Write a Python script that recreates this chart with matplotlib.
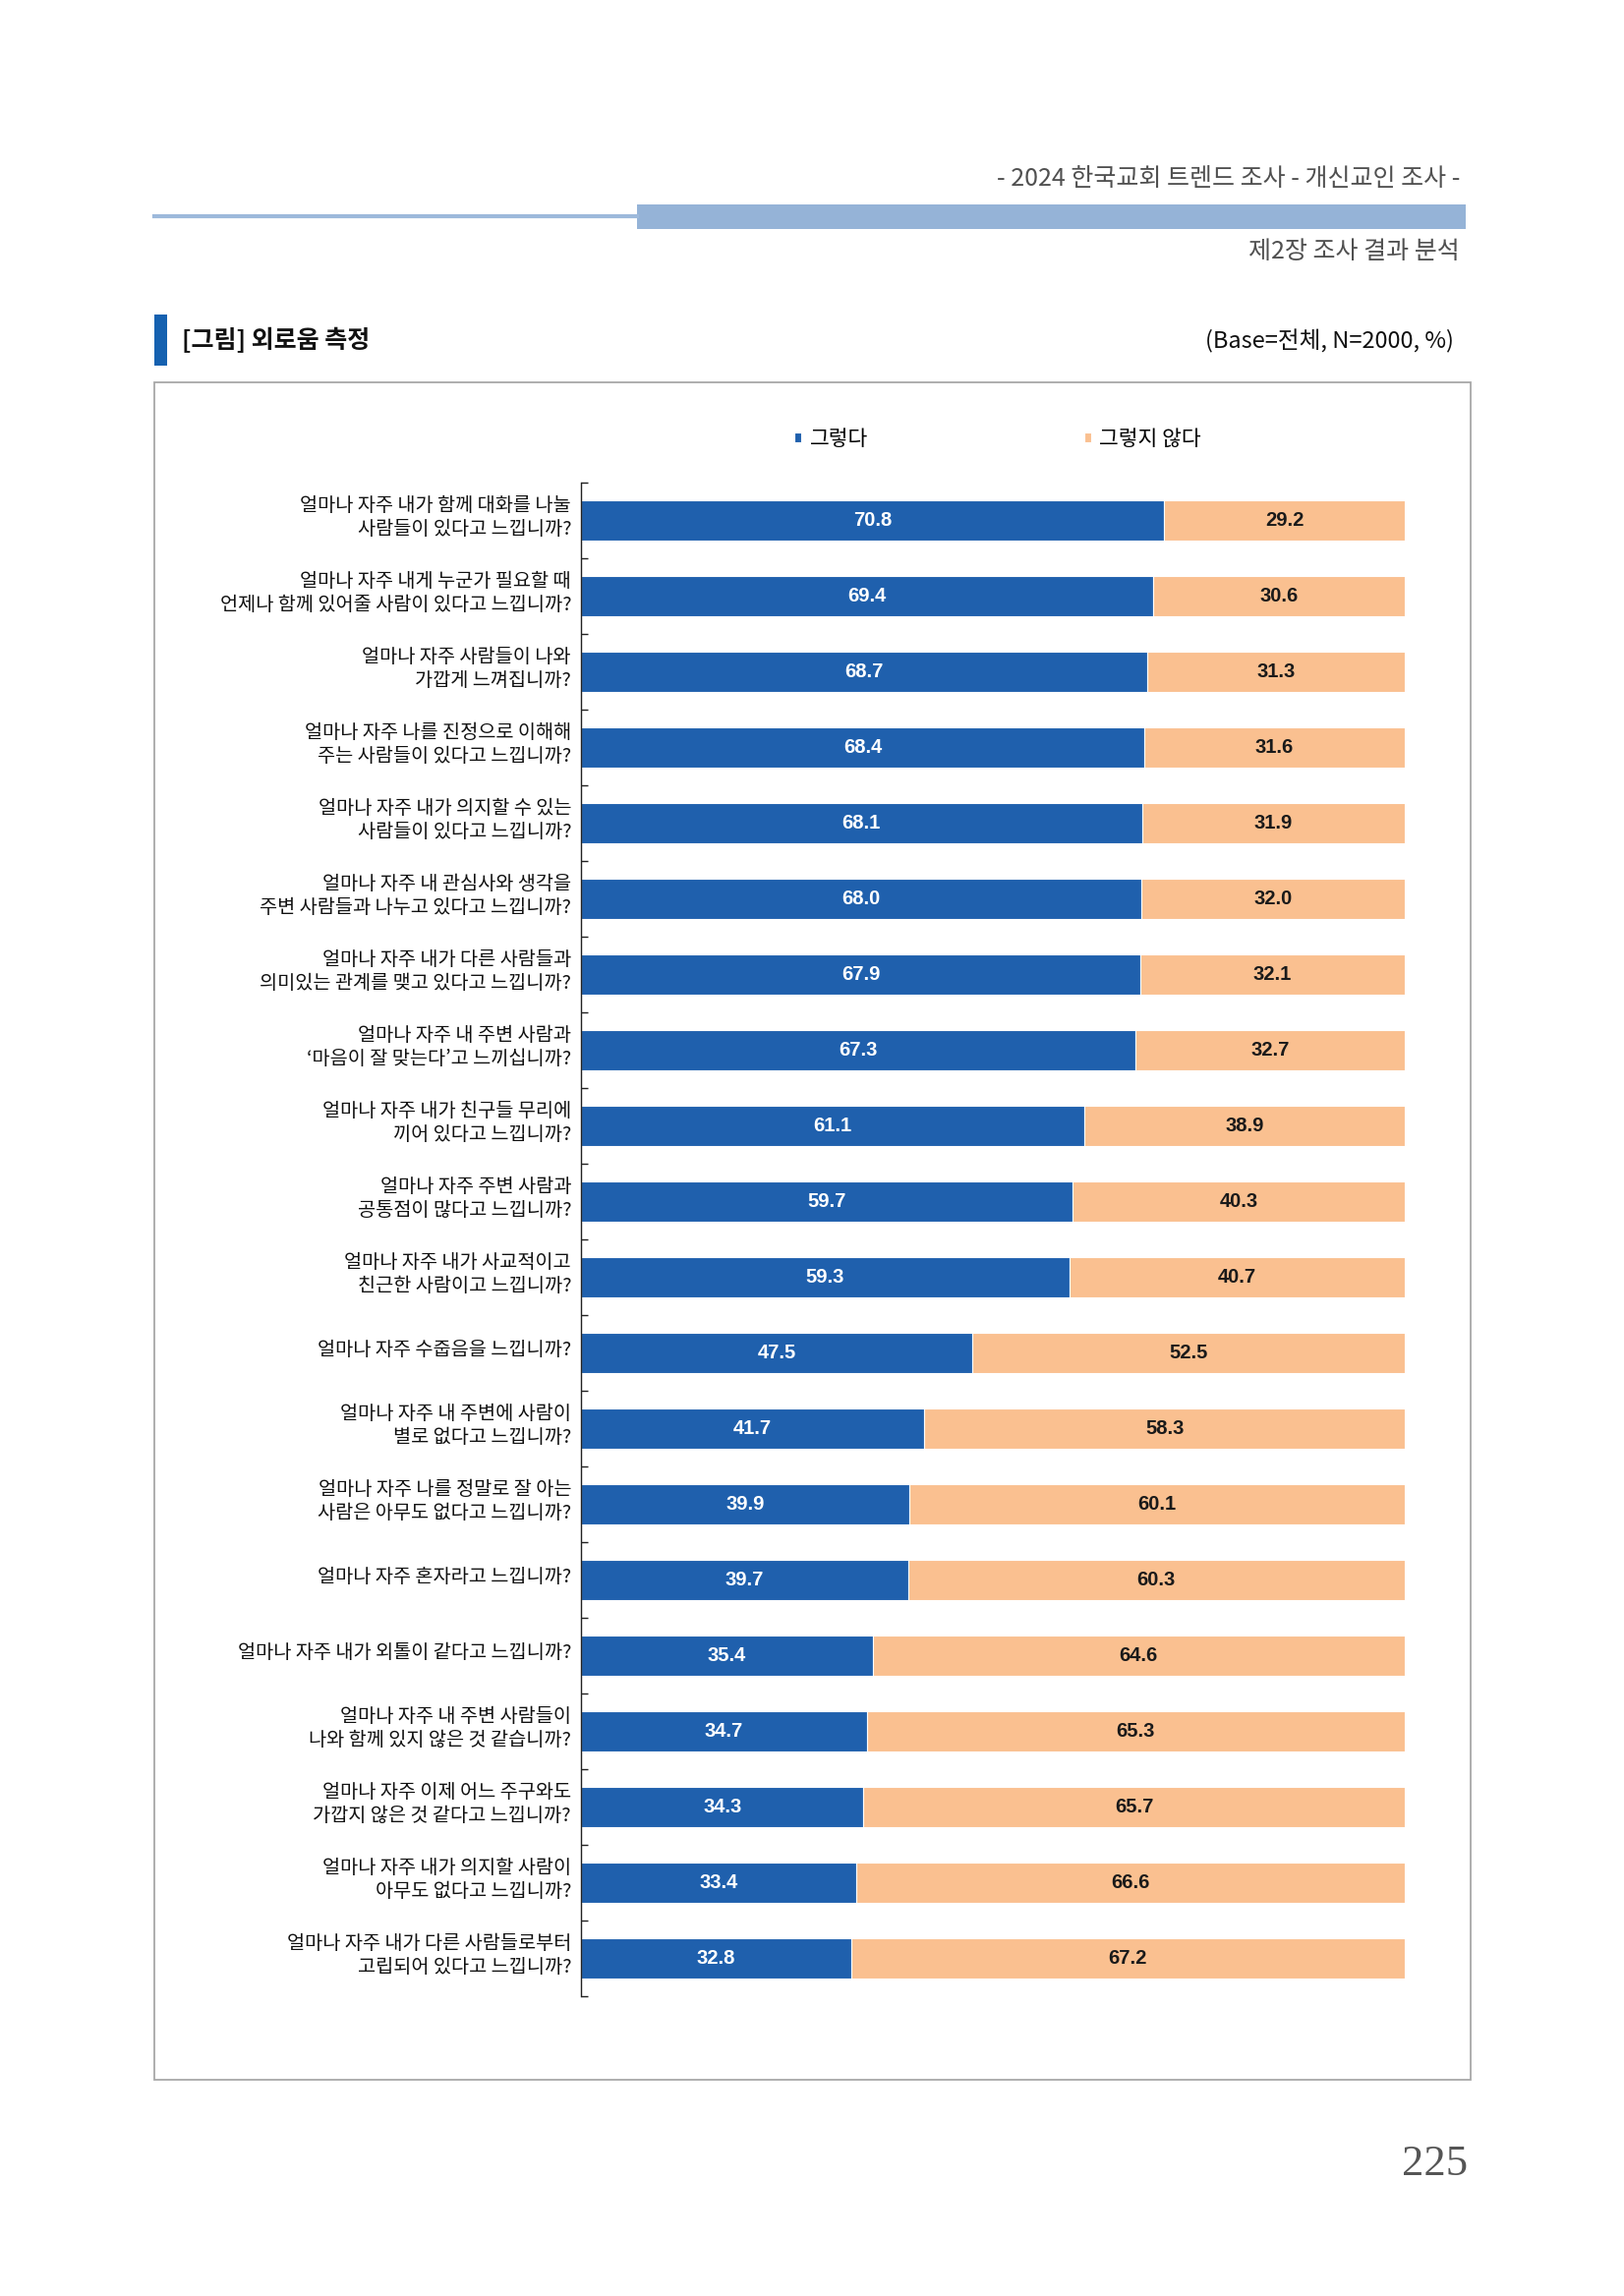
import matplotlib
matplotlib.use("Agg")
import matplotlib.pyplot as plt
from matplotlib.patches import Rectangle
from matplotlib.lines import Line2D
from matplotlib.transforms import ScaledTranslation

plt.rcParams['font.family'] = ['Noto Sans CJK KR', 'DejaVu Sans']

categories = [
    "얼마나 자주 내가 함께 대화를 나눌\n사람들이 있다고 느낍니까?",
    "얼마나 자주 내게 누군가 필요할 때\n언제나 함께 있어줄 사람이 있다고 느낍니까?",
    "얼마나 자주 사람들이 나와\n가깝게 느껴집니까?",
    "얼마나 자주 나를 진정으로 이해해\n주는 사람들이 있다고 느낍니까?",
    "얼마나 자주 내가 의지할 수 있는\n사람들이 있다고 느낍니까?",
    "얼마나 자주 내 관심사와 생각을\n주변 사람들과 나누고 있다고 느낍니까?",
    "얼마나 자주 내가 다른 사람들과\n의미있는 관계를 맺고 있다고 느낍니까?",
    "얼마나 자주 내 주변 사람과\n‘마음이 잘 맞는다’고 느끼십니까?",
    "얼마나 자주 내가 친구들 무리에\n끼어 있다고 느낍니까?",
    "얼마나 자주 주변 사람과\n공통점이 많다고 느낍니까?",
    "얼마나 자주 내가 사교적이고\n친근한 사람이고 느낍니까?",
    "얼마나 자주 수줍음을 느낍니까?",
    "얼마나 자주 내 주변에 사람이\n별로 없다고 느낍니까?",
    "얼마나 자주 나를 정말로 잘 아는\n사람은 아무도 없다고 느낍니까?",
    "얼마나 자주 혼자라고 느낍니까?",
    "얼마나 자주 내가 외톨이 같다고 느낍니까?",
    "얼마나 자주 내 주변 사람들이\n나와 함께 있지 않은 것 같습니까?",
    "얼마나 자주 이제 어느 주구와도\n가깝지 않은 것 같다고 느낍니까?",
    "얼마나 자주 내가 의지할 사람이\n아무도 없다고 느낍니까?",
    "얼마나 자주 내가 다른 사람들로부터\n고립되어 있다고 느낍니까?",
]
yes_vals = [70.8, 69.4, 68.7, 68.4, 68.1, 68.0, 67.9, 67.3, 61.1, 59.7,
            59.3, 47.5, 41.7, 39.9, 39.7, 35.4, 34.7, 34.3, 33.4, 32.8]
no_vals = [29.2, 30.6, 31.3, 31.6, 31.9, 32.0, 32.1, 32.7, 38.9, 40.3,
           40.7, 52.5, 58.3, 60.1, 60.3, 64.6, 65.3, 65.7, 66.6, 67.2]
series_names = ["그렇다", "그렇지 않다"]

BLUE = '#1F60AD'
ORANGE = '#FAC090'

W, H = 1652, 2336
fig = plt.figure(figsize=(W / 100, H / 100), dpi=100)

def fx(px):
    return px / W

def fy(py):
    return 1 - py / H

# ---- page header ----
fig.text(fx(1485), fy(182), "- 2024 한국교회 트렌드 조사 - 개신교인 조사 -",
         ha='right', va='center', fontsize=18, color='#505050')
fig.add_artist(Line2D([fx(157), fx(648)], [fy(220), fy(220)],
                      transform=fig.transFigure, color='#9DB9DB', lw=3))
fig.add_artist(Rectangle((fx(648), fy(233)), fx(1491) - fx(648), fy(208) - fy(233),
                         transform=fig.transFigure, color='#95B3D7', lw=0))
fig.text(fx(1485), fy(256), "제2장 조사 결과 분석",
         ha='right', va='center', fontsize=18, color='#505050')

# ---- figure title ----
fig.add_artist(Rectangle((fx(157), fy(372)), fx(170) - fx(157), fy(320) - fy(372),
                         transform=fig.transFigure, color='#1561B0', lw=0))
fig.text(fx(185), fy(346), "[그림] 외로움 측정", ha='left', va='center',
         fontsize=18, fontweight='bold', color='#111111')
fig.text(fx(1479), fy(347), "(Base=전체, N=2000, %)", ha='right', va='center',
         fontsize=17, color='#111111')

# ---- chart frame ----
fig.add_artist(Rectangle((fx(157), fy(2116)), fx(1496) - fx(157), fy(389) - fy(2116),
                         transform=fig.transFigure, fill=False, ec='#A8A8A8', lw=1.3))

# ---- axes ----
ax_left, ax_right = 591, 1429
ax_top, ax_bottom = 491, 2031
ax = fig.add_axes([fx(ax_left), fy(ax_bottom), fx(ax_right) - fx(ax_left),
                   fy(ax_top) - fy(ax_bottom)])

n = len(categories)
ypos = list(range(n))
bh = 0.53
b1 = ax.barh(ypos, yes_vals, height=bh, color=BLUE, edgecolor='white', lw=0.8,
             label=series_names[0])
b2 = ax.barh(ypos, no_vals, left=yes_vals, height=bh, color=ORANGE,
             edgecolor='white', lw=0.8, label=series_names[1])

for i in range(n):
    ax.text(yes_vals[i] / 2, i, f"{yes_vals[i]:.1f}", ha='center', va='center',
            color='white', fontsize=14.5, fontweight='bold', family='Liberation Sans')
    ax.text(yes_vals[i] + no_vals[i] / 2, i, f"{no_vals[i]:.1f}", ha='center',
            va='center', color='#1A1A1A', fontsize=14.5, fontweight='bold',
            family='Liberation Sans')

ax.set_xlim(0, 100)
ax.set_ylim(n - 0.5, -0.5)
ax.set_yticks(ypos)
ax.set_yticklabels([])
# category labels placed just left of the axis, slightly raised
lab_tr = ax.get_yaxis_transform() + ScaledTranslation(-10 / 100, 3 / 100, fig.dpi_scale_trans)
for i, lab in enumerate(categories):
    ax.text(0, i, lab, transform=lab_tr, ha='right', va='center',
            fontsize=14.2, color='#111111', linespacing=1.15, clip_on=False)
ax.set_yticks([i - 0.5 for i in range(n + 1)], minor=True)
ax.tick_params(axis='y', which='major', length=0)
ax.tick_params(axis='y', which='minor', direction='in', length=5, width=1, color='#222222')
ax.set_xticks([])
for s in ['top', 'right', 'bottom']:
    ax.spines[s].set_visible(False)
ax.spines['left'].set_color('#222222')
ax.spines['left'].set_linewidth(1)
ax.set_facecolor('none')

# ---- legend ----
fig.legend(handles=[b1, b2], labels=series_names, loc='center',
           bbox_to_anchor=(fx(1015), fy(447)), ncol=2, frameon=False,
           fontsize=15.5, handlelength=0.33, handleheight=0.33,
           handletextpad=0.4, columnspacing=10.2, borderpad=0)

# ---- page number ----
fig.text(fx(1493), fy(2202), "225", ha='right', va='center', fontsize=32,
         family='Liberation Serif', color='#555555')

fig.savefig("out.png", dpi=100)
